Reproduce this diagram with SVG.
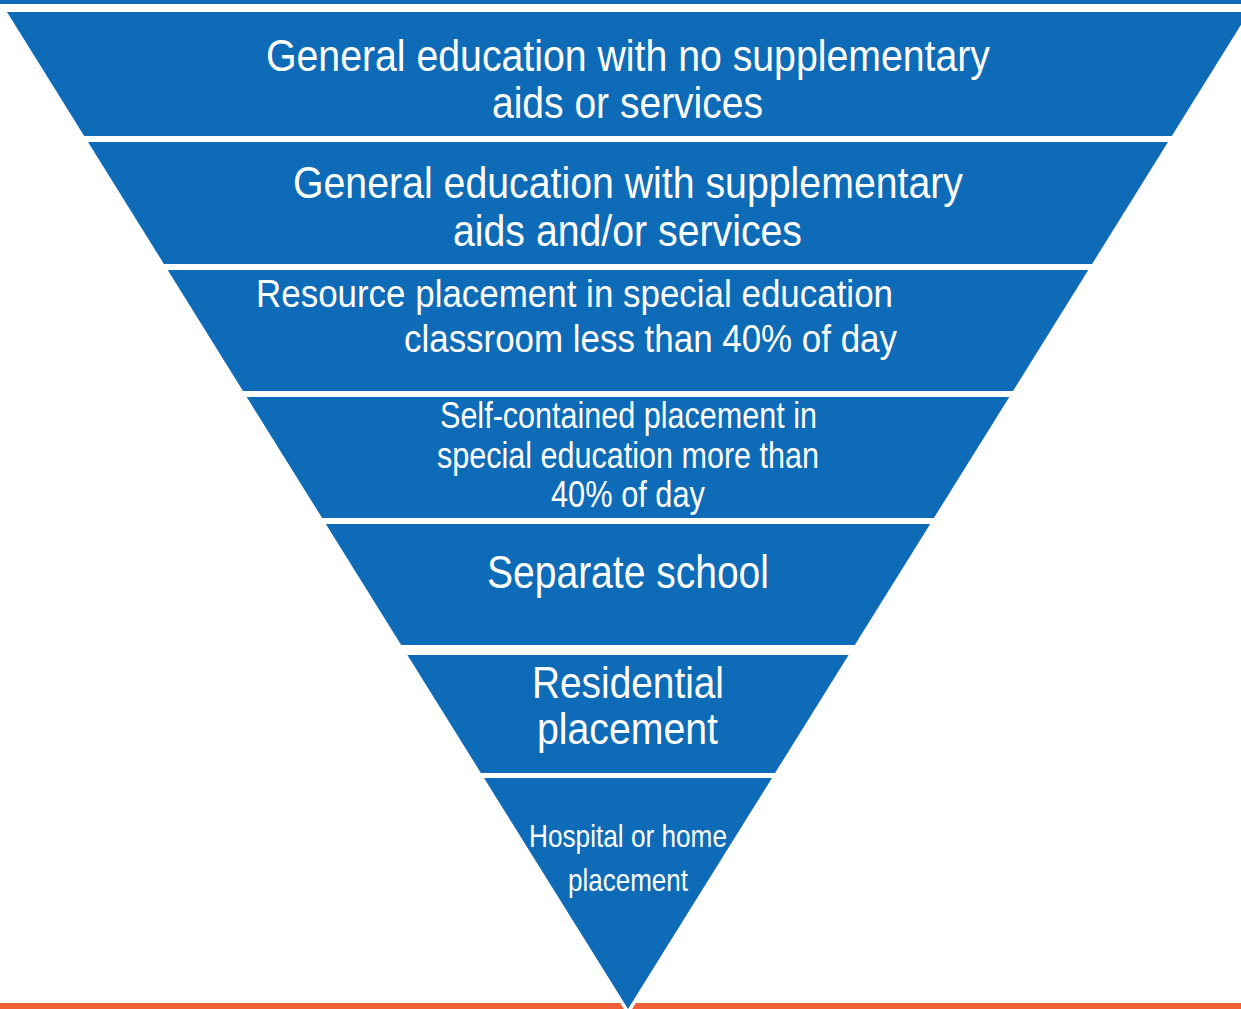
<svg xmlns="http://www.w3.org/2000/svg" width="1241" height="1009" viewBox="0 0 1241 1009">
<style>
.band{fill:#0E6BB7}
.t{fill:#ffffff;font-family:"Liberation Sans Narrow","Liberation Sans",Arial,sans-serif;}
</style>
<rect x="0" y="0" width="1241" height="1009" fill="#ffffff"/>
<rect x="0" y="0" width="1241" height="4" fill="#0E6BB7"/>
<rect x="0" y="1003" width="1241" height="6" fill="#EE5E37"/>
<g id="band1">
<polygon class="band" points="7,12 1249,12 1171.8,136 84.2,136"/>
<text class="t" font-size="45" x="266" y="71" textLength="724" lengthAdjust="spacingAndGlyphs">General education with no supplementary</text>
<text class="t" font-size="45" x="492" y="118" textLength="271" lengthAdjust="spacingAndGlyphs">aids or services</text>
</g>
<g id="band2">
<polygon class="band" points="88,142 1168,142 1092.1,264 163.9,264"/>
<text class="t" font-size="45" x="293" y="198" textLength="670" lengthAdjust="spacingAndGlyphs">General education with supplementary</text>
<text class="t" font-size="45" x="453" y="246" textLength="349" lengthAdjust="spacingAndGlyphs">aids and/or services</text>
</g>
<g id="band3">
<polygon class="band" points="167.7,270 1088.3,270 1013,391 243,391"/>
<text class="t" font-size="38" x="256" y="307" textLength="637" lengthAdjust="spacingAndGlyphs">Resource placement in special education</text>
<text class="t" font-size="38" x="404" y="352" textLength="493" lengthAdjust="spacingAndGlyphs">classroom less than 40% of day</text>
</g>
<g id="band4">
<polygon class="band" points="246.7,397 1009.3,397 933.9,518 322.1,518"/>
<text class="t" font-size="36" x="440" y="428" textLength="377" lengthAdjust="spacingAndGlyphs">Self-contained placement in</text>
<text class="t" font-size="36" x="437" y="468" textLength="382" lengthAdjust="spacingAndGlyphs">special education more than</text>
<text class="t" font-size="36" x="551" y="507" textLength="154" lengthAdjust="spacingAndGlyphs">40% of day</text>
</g>
<g id="band5">
<polygon class="band" points="325.8,524 930.2,524 854.8,645 401.2,645"/>
<text class="t" font-size="46" x="487" y="588" textLength="282" lengthAdjust="spacingAndGlyphs">Separate school</text>
</g>
<g id="band6">
<polygon class="band" points="407.4,655 848.6,655 775.1,773 480.9,773"/>
<text class="t" font-size="45" x="532" y="698" textLength="192" lengthAdjust="spacingAndGlyphs">Residential</text>
<text class="t" font-size="45" x="537" y="744" textLength="181" lengthAdjust="spacingAndGlyphs">placement</text>
</g>
<g id="band7">
<polygon class="band" points="484,778 772,778 628,1009" stroke="#ffffff" stroke-width="7" stroke-linejoin="round" paint-order="stroke"/>
<text class="t" font-size="32" x="529" y="847" textLength="198" lengthAdjust="spacingAndGlyphs">Hospital or home</text>
<text class="t" font-size="32" x="568" y="891" textLength="120" lengthAdjust="spacingAndGlyphs">placement</text>
</g>
<g id="connectors"></g>
</svg>
